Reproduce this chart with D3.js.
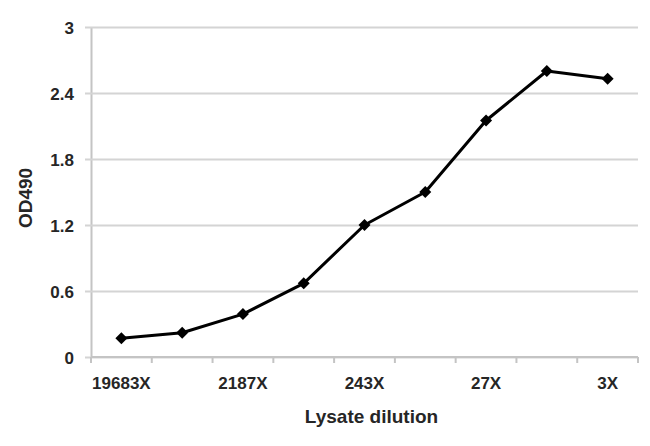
<!DOCTYPE html>
<html lang="en">
  <head>
    <meta charset="UTF-8">
    <title>OD490 vs lysate dilution</title>
    <style>
      body { margin: 0; background: #fff; }
      svg { display: block; }
      .tick text { font-family: "Liberation Sans", Arial, sans-serif; font-weight: bold; font-size: 17px; fill: #262626; }
      .title { font-family: "Liberation Sans", Arial, sans-serif; font-weight: bold; font-size: 19px; fill: #262626; }
    </style>
    <script src="https://d3js.org/d3.v7.min.js"></script>
  </head>
  <body>
    <script>
      var dilutions = ["19683X", "6561X", "2187X", "729X", "243X", "81X", "27X", "9X", "3X"];
      var od490 = [0.17, 0.22, 0.39, 0.67, 1.2, 1.5, 2.15, 2.6, 2.53];
      var yTicks = [0, 0.6, 1.2, 1.8, 2.4, 3];
      var shownLabels = ["19683X", "2187X", "243X", "27X", "3X"];

      var width = 650, height = 446;
      var margin = { top: 27, right: 12, bottom: 89, left: 91 };

      var svg = d3.select("body").append("svg")
        .attr("width", width)
        .attr("height", height);

      var x = d3.scaleBand().domain(dilutions)
        .range([margin.left, width - margin.right]);
      var y = d3.scaleLinear().domain([0, 3])
        .range([height - margin.bottom, margin.top]);

      // horizontal gridlines + y axis
      var yAxis = d3.axisLeft(y).tickValues(yTicks)
        .tickSize(-(width - margin.right - margin.left))
        .tickSizeOuter(0)
        .tickPadding(17)
        .tickFormat(function (d) { return d3.format("")(+d.toFixed(1)); });

      var gy = svg.append("g")
        .attr("transform", "translate(" + margin.left + ",0)")
        .call(yAxis);
      gy.select(".domain").attr("stroke", "#c4c4c4").attr("stroke-width", 2);
      gy.selectAll(".tick line").attr("stroke", "#d4d4d4").attr("stroke-width", 2)
        .attr("x1", -6);
      gy.selectAll(".tick text").attr("dy", "0.36em");

      // x axis with ticks at band boundaries
      var gx = svg.append("g")
        .attr("transform", "translate(0," + y(0) + ")");
      gx.append("line")
        .attr("x1", x.range()[0]).attr("x2", x.range()[1])
        .attr("stroke", "#c4c4c4").attr("stroke-width", 2);
      var bounds = dilutions.map(function (d) { return x(d); }).concat([x.range()[1]]);
      gx.selectAll(".bound").data(bounds).enter().append("line")
        .attr("x1", function (d) { return d; }).attr("x2", function (d) { return d; })
        .attr("y1", 0).attr("y2", 6)
        .attr("stroke", "#c4c4c4").attr("stroke-width", 2);
      var xAxis = d3.axisBottom(x).tickValues(shownLabels).tickSize(0).tickPadding(20);
      var gxl = svg.append("g")
        .attr("transform", "translate(0," + y(0) + ")")
        .call(xAxis);
      gxl.select(".domain").remove();

      var cx = function (d, i) { return x(dilutions[i]) + x.bandwidth() / 2; };

      var line = d3.line()
        .x(function (d, i) { return cx(d, i); })
        .y(function (d) { return y(d); });

      svg.append("path").datum(od490)
        .attr("d", line)
        .attr("fill", "none")
        .attr("stroke", "#000")
        .attr("stroke-width", 3)
        .attr("stroke-linejoin", "round");

      // square rotated 45deg gives the flatter Excel-style diamond
      svg.selectAll(".pt").data(od490).enter().append("path")
        .attr("d", d3.symbol().type(d3.symbolSquare).size(72))
        .attr("transform", function (d, i) { return "translate(" + cx(d, i) + "," + y(d) + ") rotate(45)"; })
        .attr("fill", "#000");

      svg.append("text").attr("class", "title")
        .attr("x", (margin.left + width - margin.right) / 2 + 7)
        .attr("y", 423)
        .attr("text-anchor", "middle")
        .text("Lysate dilution");

      svg.append("text").attr("class", "title")
        .attr("transform", "translate(32," + 198 + ") rotate(-90)")
        .attr("text-anchor", "middle")
        .text("OD490");
    </script>
  </body>
</html>
